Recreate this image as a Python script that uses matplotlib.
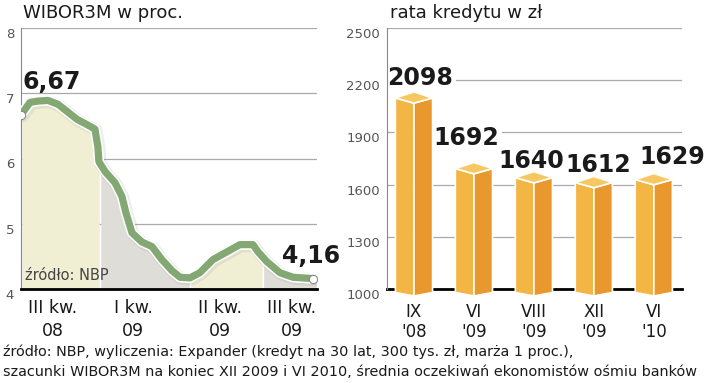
import numpy as np
import matplotlib
matplotlib.use("Agg")
import matplotlib.pyplot as plt
import matplotlib.patheffects as pe
from matplotlib.patches import Polygon

# WIBOR3M, months since start of the window
wibor_t = [0.0, 0.34, 0.64, 1.01, 1.39, 1.76, 2.10, 2.47, 2.77, 2.88, 2.92, 3.15,
           3.52, 3.78, 3.93, 4.16, 4.53, 4.91, 5.28, 5.66, 5.96, 6.33, 6.70, 7.19,
           7.72, 8.20, 8.69, 8.88, 9.21, 9.70, 10.19, 10.94]
wibor_v = [6.67, 6.86, 6.88, 6.89, 6.83, 6.71, 6.60, 6.52, 6.45, 6.18, 5.95, 5.80,
           5.63, 5.42, 5.17, 4.86, 4.72, 4.65, 4.45, 4.28, 4.18, 4.17, 4.25, 4.45,
           4.57, 4.68, 4.68, 4.57, 4.42, 4.25, 4.18, 4.16]
band_edges = [0.0, 2.96, 6.33, 9.06, 11.09]
band_colors = ["#f0efd3", "#deddd7", "#f0efd3", "#deddd7"]
quarter_pos = [1.2, 4.2, 7.45, 10.15]
quarter_labels = ["III kw.\n08", "I kw.\n09", "II kw.\n09", "III kw.\n09"]

# monthly loan instalment
rate_labels = ["IX\n'08", "VI\n'09", "VIII\n'09", "XII\n'09", "VI\n'10"]
rate_values = [2098, 1692, 1640, 1612, 1629]
label_nudge = [(0.1, 48), (-0.12, 108), (-0.05, 26), (0.08, 32), (0.3, 63)]

GREEN = "#84a874"
TXT = "#1a1a1a"
TICK = "#555555"

fig = plt.figure(figsize=(7.2, 3.83), dpi=100)
fig.patch.set_facecolor("white")

# ---------------- left: WIBOR line ----------------
ax1 = fig.add_axes([21 / 720, 94 / 383, 296 / 720, 261 / 383])
ax1.set_xlim(0, 11.09)
ax1.set_ylim(4, 8)
for i in range(len(band_colors)):
    xs = np.linspace(band_edges[i] + 0.03, band_edges[i + 1] - 0.03, 80)
    ys = np.interp(xs, wibor_t, wibor_v)
    ax1.fill_between(xs, 4, ys, color=band_colors[i], lw=0, zorder=1)

ax1.plot(wibor_t, wibor_v, color=GREEN, lw=5.2, solid_capstyle="round",
         solid_joinstyle="round", zorder=3,
         path_effects=[pe.SimpleLineShadow(offset=(1.0, -1.0), shadow_color="#888888", alpha=0.15, linewidth=9),
                       pe.Stroke(linewidth=7.5, foreground="white"), pe.Normal()])
ax1.plot([wibor_t[0], wibor_t[-1]], [wibor_v[0], wibor_v[-1]], "o", ms=6,
         mfc="white", mec="#888888", mew=0.8, zorder=4)

ax1.set_yticks([4, 5, 6, 7, 8])
ax1.grid(axis="y", color="#aaaaaa", lw=0.9, zorder=0)
ax1.set_axisbelow(True)
ax1.set_xticks(quarter_pos)
ax1.set_xticklabels(quarter_labels, fontsize=12.5, color=TXT, linespacing=1.33)
ax1.tick_params(axis="x", length=0, pad=7.5)
ax1.tick_params(axis="y", length=0, pad=5, labelsize=9.5, labelcolor=TICK)
for lab in ax1.get_yticklabels():
    lab.set_verticalalignment("top")
for s in ["top", "right"]:
    ax1.spines[s].set_visible(False)
ax1.spines["left"].set_color("#888888")
ax1.spines["bottom"].set_color("black")
ax1.spines["bottom"].set_linewidth(2)

ax1.text(0.05, 7.06, "6,67", fontsize=17, fontweight="bold", color=TXT, zorder=5)
ax1.text(9.78, 4.4, "4,16", fontsize=17, fontweight="bold", color=TXT, zorder=5)
ax1.text(0.15, 4.14, "źródło: NBP", fontsize=10.5, color="#444444", zorder=5)
fig.text(23 / 720, 1 - 13 / 383, "WIBOR3M w proc.", fontsize=13, color=TXT, va="center")

# ---------------- right: instalment bars ----------------
ax2 = fig.add_axes([387 / 720, 94 / 383, 295 / 720, 261 / 383])
ax2.set_xlim(-0.45, 4.47)
ax2.set_ylim(1000, 2500)
ax2.set_yticks(np.arange(1000, 2501, 300))
ax2.grid(axis="y", color="#aaaaaa", lw=0.9, zorder=0)
ax2.set_axisbelow(True)

hw = 0.31     # half width of the bar (x units)
dep = 30      # vertical skew of top face (y units)
for i, v in enumerate(rate_values):
    base = 1000
    front = Polygon([(i - hw, base - 20), (i, base - 40), (i, v - dep), (i - hw, v)],
                    closed=True, fc="#f3b543", ec="white", lw=1.2, zorder=3, clip_on=False)
    side = Polygon([(i, base - 40), (i + hw, base - 20), (i + hw, v), (i, v - dep)],
                   closed=True, fc="#e8982c", ec="white", lw=1.2, zorder=3, clip_on=False)
    top = Polygon([(i - hw, v), (i, v - dep), (i + hw, v), (i, v + dep + 5)],
                  closed=True, fc="#f7c862", ec="white", lw=1.2, zorder=3)
    for p in (front, side, top):
        ax2.add_patch(p)
    dx, dy = label_nudge[i]
    ax2.text(i + dx, v + dy, str(v), ha="center", va="bottom", fontsize=17,
             fontweight="bold", color=TXT, zorder=2,
             bbox=dict(fc="white", ec="none", pad=2))

ax2.set_xticks(range(len(rate_labels)))
ax2.set_xticklabels(rate_labels, fontsize=12, color=TXT, linespacing=1.15)
ax2.tick_params(axis="x", length=0, pad=10)
ax2.tick_params(axis="y", length=0, pad=5, labelsize=9.5, labelcolor=TICK)
for lab in ax2.get_yticklabels():
    lab.set_verticalalignment("top")
for s in ["top", "right"]:
    ax2.spines[s].set_visible(False)
ax2.spines["left"].set_color("#888888")
ax2.spines["bottom"].set_color("black")
ax2.spines["bottom"].set_linewidth(2)
ax2.spines["bottom"].set_zorder(2)
fig.text(390 / 720, 1 - 13 / 383, "rata kredytu w zł", fontsize=13, color=TXT, va="center")

# footer
fig.text(3 / 720, 1 - 352 / 383,
         "źródło: NBP, wyliczenia: Expander (kredyt na 30 lat, 300 tys. zł, marża 1 proc.),",
         fontsize=10.4, color=TXT, va="center")
fig.text(3 / 720, 1 - 372 / 383,
         "szacunki WIBOR3M na koniec XII 2009 i VI 2010, średnia oczekiwań ekonomistów ośmiu banków",
         fontsize=10.4, color=TXT, va="center")

fig.savefig("out.png", dpi=100, facecolor="white")
